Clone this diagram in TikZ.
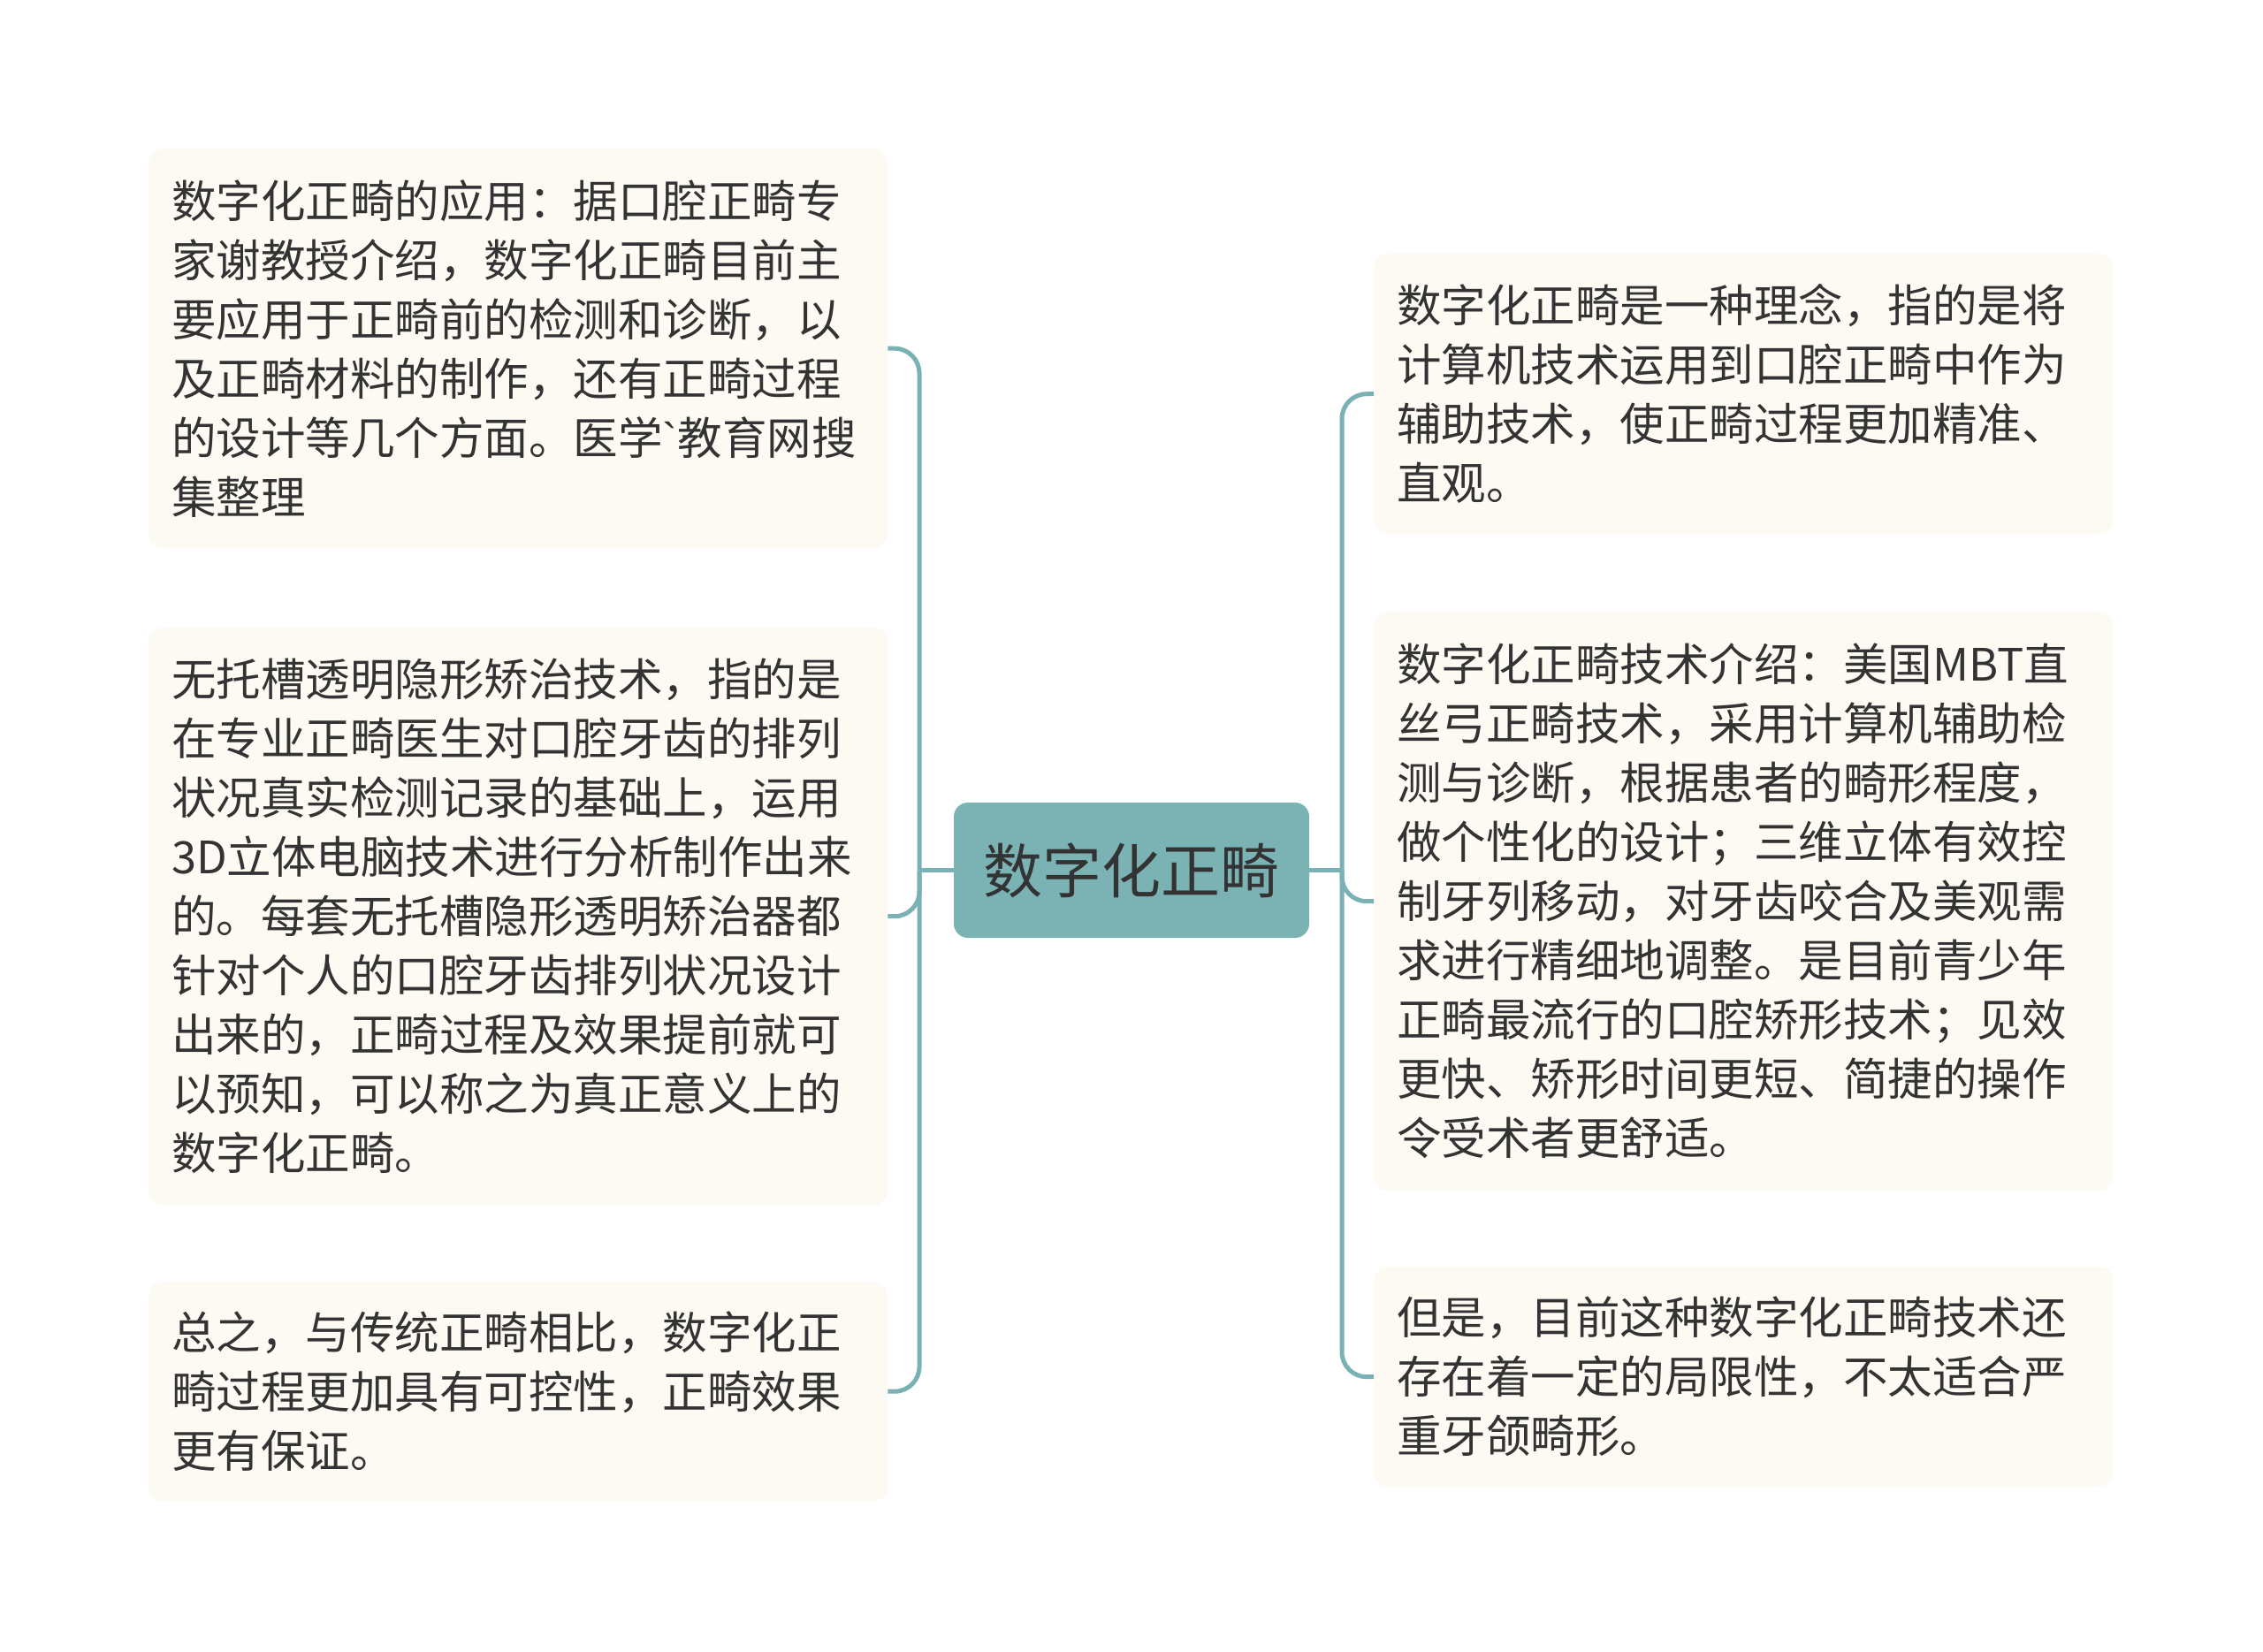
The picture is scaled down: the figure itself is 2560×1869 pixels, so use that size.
\documentclass[tikz,border=0pt]{standalone}
\usepackage{fontspec}
\setmainfont{Noto Sans CJK SC}
\newfontfamily\latinf[Ligatures=ResetAll]{Liberation Sans}
\definecolor{leaffill}{HTML}{FCFAF2}
\definecolor{rootfill}{HTML}{7BB3B5}
\definecolor{linec}{HTML}{7AB1B4}
\definecolor{textc}{HTML}{333333}
\begin{document}
\begin{tikzpicture}[x=1pt,y=-1pt,
  leaf/.style={draw=none, fill=leaffill, rounded corners=16pt, anchor=north west,
    inner xsep=26pt, inner ysep=0pt, text width=784pt, align=left,
    font=\fontsize{50.5}{67}\selectfont, text=textc, minimum width=836pt},
  root/.style={fill=rootfill, rounded corners=16pt, minimum width=402pt,
    minimum height=153pt, inner sep=0pt, font=\fontsize{67}{80}\selectfont, text=textc},
  conn/.style={draw=linec, line width=5pt, rounded corners=28pt}]
\useasboundingbox (0,0) rectangle (2560,1869);
\fill[white] (0,0) rectangle (2560,1869);

\node[root] (c) at (1280,984.5) {数字化正畸};

\node[leaf, minimum height=452pt] (l1) at (168,168)
  {数字化正畸的应用：据口腔正畸专\\家谢教授介绍，数字化正畸目前主\\要应用于正畸前的检测和诊断，以\\及正畸材料的制作，还有正畸过程\\的设计等几个方面。医学{\latinf\char"60}教育网搜\\集整理};
\node[leaf, minimum height=653pt] (l2) at (168,710)
  {无托槽透明隐形矫治技术，指的是\\在专业正畸医生对口腔牙齿的排列\\状况真实检测记录的基础上，运用\\3D立体电脑技术进行分析制作出来\\的。每套无托槽隐形透明矫治器都\\针对个人的口腔牙齿排列状况设计\\出来的，正畸过程及效果提前就可\\以预知，可以称之为真正意义上的\\数字化正畸。};
\node[leaf, minimum height=248pt] (l3) at (168,1450)
  {总之，与传统正畸相比，数字化正\\畸过程更加具有可控性，正畸效果\\更有保证。};

\node[leaf, minimum height=317pt] (r1) at (1554,287)
  {数字化正畸是一种理念，指的是将\\计算机技术运用到口腔正畸中作为\\辅助技术，使正畸过程更加精准、\\直观。};
\node[leaf, minimum height=655pt] (r2) at (1554,692)
  {数字化正畸技术介绍：美国MBT直\\丝弓正畸技术，采用计算机辅助检\\测与诊断，根据患者的畸形程度，\\做个性化的设计；三维立体有效控\\制牙列移动，对牙齿咬合及美观需\\求进行精细地调整。是目前青少年\\正畸最流行的口腔矫形技术；见效\\更快、矫形时间更短、简捷的操作\\令受术者更舒适。};
\node[leaf, minimum height=249pt] (r3) at (1554,1433)
  {但是，目前这种数字化正畸技术还\\存在着一定的局限性，不太适合严\\重牙颌畸形。};

\coordinate (lj) at (1040,984.5);
\coordinate (rj) at (1518,984.5);

\draw[conn] (c.west) -- (lj);
\draw[conn] (lj) |- (l1.east);
\draw[conn] (lj) |- (l2.east);
\draw[conn] (lj) |- (l3.east);
\draw[conn] (c.east) -- (rj);
\draw[conn] (rj) |- (r1.west);
\draw[conn] (rj) |- (r2.west);
\draw[conn] (rj) |- (r3.west);
\end{tikzpicture}
\end{document}
